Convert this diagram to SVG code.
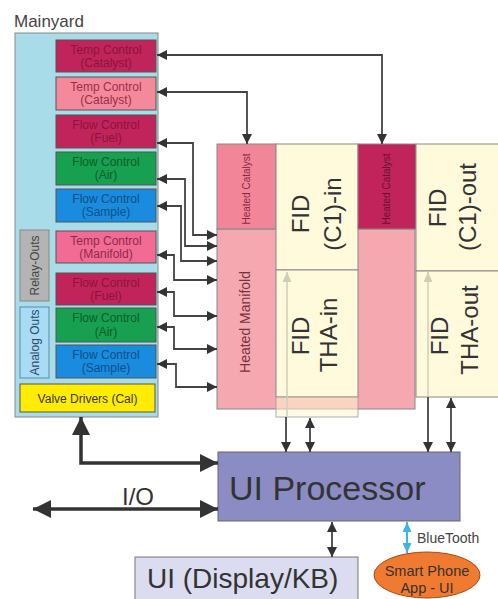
<svg xmlns="http://www.w3.org/2000/svg" width="498" height="599" viewBox="0 0 498 599">
<style>
text{font-family:"Liberation Sans",Arial,sans-serif}
.ib{stroke:#555;stroke-width:1}
.t12{font-size:12px;text-anchor:middle}
.c{fill:none;stroke:#444;stroke-width:1.8}
.tk{fill:none;stroke:#333;stroke-width:3.5}
.lt{fill:none;stroke:#cfcfb8;stroke-width:1.5}
.fid{font-size:24px;fill:#333;text-anchor:middle}
.rb{stroke:#888;stroke-width:1}
</style>
<defs>
<marker id="a" markerUnits="userSpaceOnUse" markerWidth="10" markerHeight="10" refX="10" refY="5" orient="auto-start-reverse"><path d="M0,0 L10,5 L0,10 z" fill="#333"/></marker>
<marker id="al" markerUnits="userSpaceOnUse" markerWidth="10" markerHeight="9" refX="10" refY="4.5" orient="auto-start-reverse"><path d="M0,0 L10,4.5 L0,9 z" fill="#cfcfb8"/></marker>
<marker id="ab" markerUnits="userSpaceOnUse" markerWidth="10" markerHeight="9" refX="10" refY="4.5" orient="auto-start-reverse"><path d="M0,0 L10,4.5 L0,9 z" fill="#3cb4e6"/></marker>
<marker id="at" markerUnits="userSpaceOnUse" markerWidth="18" markerHeight="18" refX="18" refY="9" orient="auto-start-reverse"><path d="M0,0 L18,9 L0,18 z" fill="#333"/></marker>
</defs>

<g id="mainyard">
<text x="14" y="27" font-size="17" fill="#444">Mainyard</text>
<rect x="15" y="33" width="143" height="384" fill="#a8dce8" stroke="#888"/>
</g>
<g id="temp-catalyst-1"><rect class="ib" x="56" y="40" width="100" height="32" fill="#c1245a"/><text class="t12" x="106" y="54" fill="#8b1538">Temp Control</text><text class="t12" x="106" y="67" fill="#8b1538">(Catalyst)</text></g>
<g id="temp-catalyst-2"><rect class="ib" x="56" y="77" width="100" height="33" fill="#f4899c"/><text class="t12" x="106" y="91" fill="#9a3048">Temp Control</text><text class="t12" x="106" y="104" fill="#9a3048">(Catalyst)</text></g>
<g id="flow-fuel-1"><rect class="ib" x="56" y="115" width="100" height="33" fill="#c1245a"/><text class="t12" x="106" y="129" fill="#8b1538">Flow Control</text><text class="t12" x="106" y="142" fill="#8b1538">(Fuel)</text></g>
<g id="flow-air-1"><rect class="ib" x="56" y="152" width="100" height="33" fill="#16a050"/><text class="t12" x="106" y="166" fill="#0d5c2c">Flow Control</text><text class="t12" x="106" y="179" fill="#0d5c2c">(Air)</text></g>
<g id="flow-sample-1"><rect class="ib" x="56" y="189" width="100" height="33" fill="#1a8ce0"/><text class="t12" x="106" y="203" fill="#0d4f85">Flow Control</text><text class="t12" x="106" y="216" fill="#0d4f85">(Sample)</text></g>
<g id="temp-manifold"><rect class="ib" x="56" y="231" width="100" height="32" fill="#f26b94"/><text class="t12" x="106" y="245" fill="#8f2a48">Temp Control</text><text class="t12" x="106" y="258" fill="#8f2a48">(Manifold)</text></g>
<g id="flow-fuel-2"><rect class="ib" x="56" y="273" width="100" height="32" fill="#c1245a"/><text class="t12" x="106" y="287" fill="#8b1538">Flow Control</text><text class="t12" x="106" y="300" fill="#8b1538">(Fuel)</text></g>
<g id="flow-air-2"><rect class="ib" x="56" y="308" width="100" height="34" fill="#16a050"/><text class="t12" x="106" y="322" fill="#0d5c2c">Flow Control</text><text class="t12" x="106" y="336" fill="#0d5c2c">(Air)</text></g>
<g id="flow-sample-2"><rect class="ib" x="56" y="345" width="100" height="33" fill="#1a8ce0"/><text class="t12" x="106" y="359" fill="#0d4f85">Flow Control</text><text class="t12" x="106" y="372" fill="#0d4f85">(Sample)</text></g>
<g id="valve-drivers"><rect class="ib" x="20" y="384" width="135" height="28" fill="#ffec00"/><text class="t12" x="87.5" y="403" fill="#333">Valve Drivers (Cal)</text></g>
<g id="relay-outs"><rect x="20" y="230" width="29" height="71" fill="#b4b4b4" stroke="#888"/><text class="t12" transform="translate(34.5,265.5) rotate(-90)" x="0" y="4.3" fill="#444">Relay-Outs</text></g>
<g id="analog-outs"><rect x="20" y="307" width="29" height="71" fill="#a8dcf4" stroke="#5a8aaa"/><text class="t12" transform="translate(34.5,342.5) rotate(-90)" x="0" y="4.3" fill="#2a4a6a">Analog Outs</text></g>

<g id="heated-manifold"><rect class="rb" x="217" y="229" width="198" height="180" fill="#f6a8b0"/><text transform="translate(245,322) rotate(-90)" x="0" y="5" font-size="14" text-anchor="middle" fill="#7a3040">Heated Manifold</text></g>
<g id="heated-catalyst-1"><rect class="rb" x="217" y="144" width="59" height="85" fill="#f28598"/><text transform="translate(246,189) rotate(-90)" x="0" y="3.6" font-size="10" text-anchor="middle" fill="#8a2a40">Heated Catalyst</text></g>
<g id="fid-c1-in"><rect class="rb" x="276" y="144" width="82" height="126" fill="#fffadc"/><text class="fid" transform="translate(300,214) rotate(-90)" x="0" y="8.6">FID</text><text class="fid" transform="translate(332,214) rotate(-90)" x="0" y="8.6">(C1)-in</text></g>
<g id="fid-tha-in"><rect class="rb" x="276" y="270" width="82" height="127" fill="#fffadc"/><rect x="276" y="397" width="82" height="20" fill="#fff5d0" fill-opacity="0.55" stroke="#999" stroke-width="0.8"/><text class="fid" transform="translate(300,336) rotate(-90)" x="0" y="8.6">FID</text><text class="fid" transform="translate(328,335) rotate(-90)" x="0" y="8.6">THA-in</text></g>
<g id="heated-catalyst-2"><rect class="rb" x="358" y="144" width="58" height="85" fill="#c0245a"/><text transform="translate(386,189) rotate(-90)" x="0" y="3.6" font-size="10" text-anchor="middle" fill="#6a1030">Heated Catalyst</text></g>
<g id="fid-c1-out"><rect class="rb" x="416" y="144" width="84" height="127" fill="#fffadc"/><text class="fid" transform="translate(437,208) rotate(-90)" x="0" y="8.6">FID</text><text class="fid" transform="translate(467,207) rotate(-90)" x="0" y="8.6">(C1)-out</text></g>
<g id="fid-tha-out"><rect class="rb" x="416" y="271" width="84" height="126" fill="#fffadc"/><text class="fid" transform="translate(439,336) rotate(-90)" x="0" y="8.6">FID</text><text class="fid" transform="translate(469,330) rotate(-90)" x="0" y="8.6">THA-out</text></g>

<g id="ui-processor"><rect x="218" y="452" width="242" height="69" fill="#8c8cc4" stroke="#666"/><text x="229" y="500" font-size="34" fill="#333">UI Processor</text></g>
<g id="ui-display"><rect x="135" y="557" width="223" height="45" fill="#dcdcf0" stroke="#777"/><text x="147" y="588" font-size="28" fill="#333">UI (Display/KB)</text></g>
<g id="smart-phone"><ellipse cx="427" cy="575" rx="53" ry="23" fill="#f07a30" stroke="#a04a18"/><text x="427" y="576" font-size="14.5" text-anchor="middle" fill="#333">Smart Phone</text><text x="427" y="593" font-size="14.5" text-anchor="middle" fill="#333">App - UI</text></g>

<g id="connectors">
<path class="c" d="M157,55 H382 V144" marker-start="url(#a)" marker-end="url(#a)"/>
<path class="c" d="M157,92 H247 V144" marker-start="url(#a)" marker-end="url(#a)"/>
<path class="c" d="M157,143 H193 V235 H217" marker-start="url(#a)" marker-end="url(#a)"/>
<path class="c" d="M157,179 H185 V246 H217" marker-start="url(#a)" marker-end="url(#a)"/>
<path class="c" d="M157,206 H181 V261 H217" marker-start="url(#a)" marker-end="url(#a)"/>
<path class="c" d="M157,255 H174 V280 H217" marker-start="url(#a)" marker-end="url(#a)"/>
<path class="c" d="M157,292 H174 V316 H217" marker-start="url(#a)" marker-end="url(#a)"/>
<path class="c" d="M157,327 H174 V349 H217" marker-start="url(#a)" marker-end="url(#a)"/>
<path class="c" d="M157,364 H176 V387 H217" marker-start="url(#a)" marker-end="url(#a)"/>
<path class="lt" d="M287,417 V272" marker-end="url(#al)"/>
<path class="lt" d="M428,397 V272" marker-end="url(#al)"/>
<path class="c" d="M286,417 V452" marker-end="url(#a)"/>
<path class="c" d="M310,418 V452" marker-start="url(#a)" marker-end="url(#a)"/>
<path class="c" d="M428,397 V452" marker-end="url(#a)"/>
<path class="c" d="M451,398 V452" marker-start="url(#a)" marker-end="url(#a)"/>
<path class="c" d="M332,522 V557" marker-start="url(#a)" marker-end="url(#a)"/>
<path fill="none" stroke="#3cb4e6" stroke-width="2" d="M407,522 V553" marker-start="url(#ab)" marker-end="url(#ab)"/>
<path class="tk" d="M81,417 V463 H218" marker-start="url(#at)" marker-end="url(#at)"/>
<path class="tk" d="M33,509 H218" marker-start="url(#at)" marker-end="url(#at)"/>
<text x="122" y="505" font-size="24" fill="#333">I/O</text>
<text x="417" y="543" font-size="14" fill="#444">BlueTooth</text>
</g>
</svg>
